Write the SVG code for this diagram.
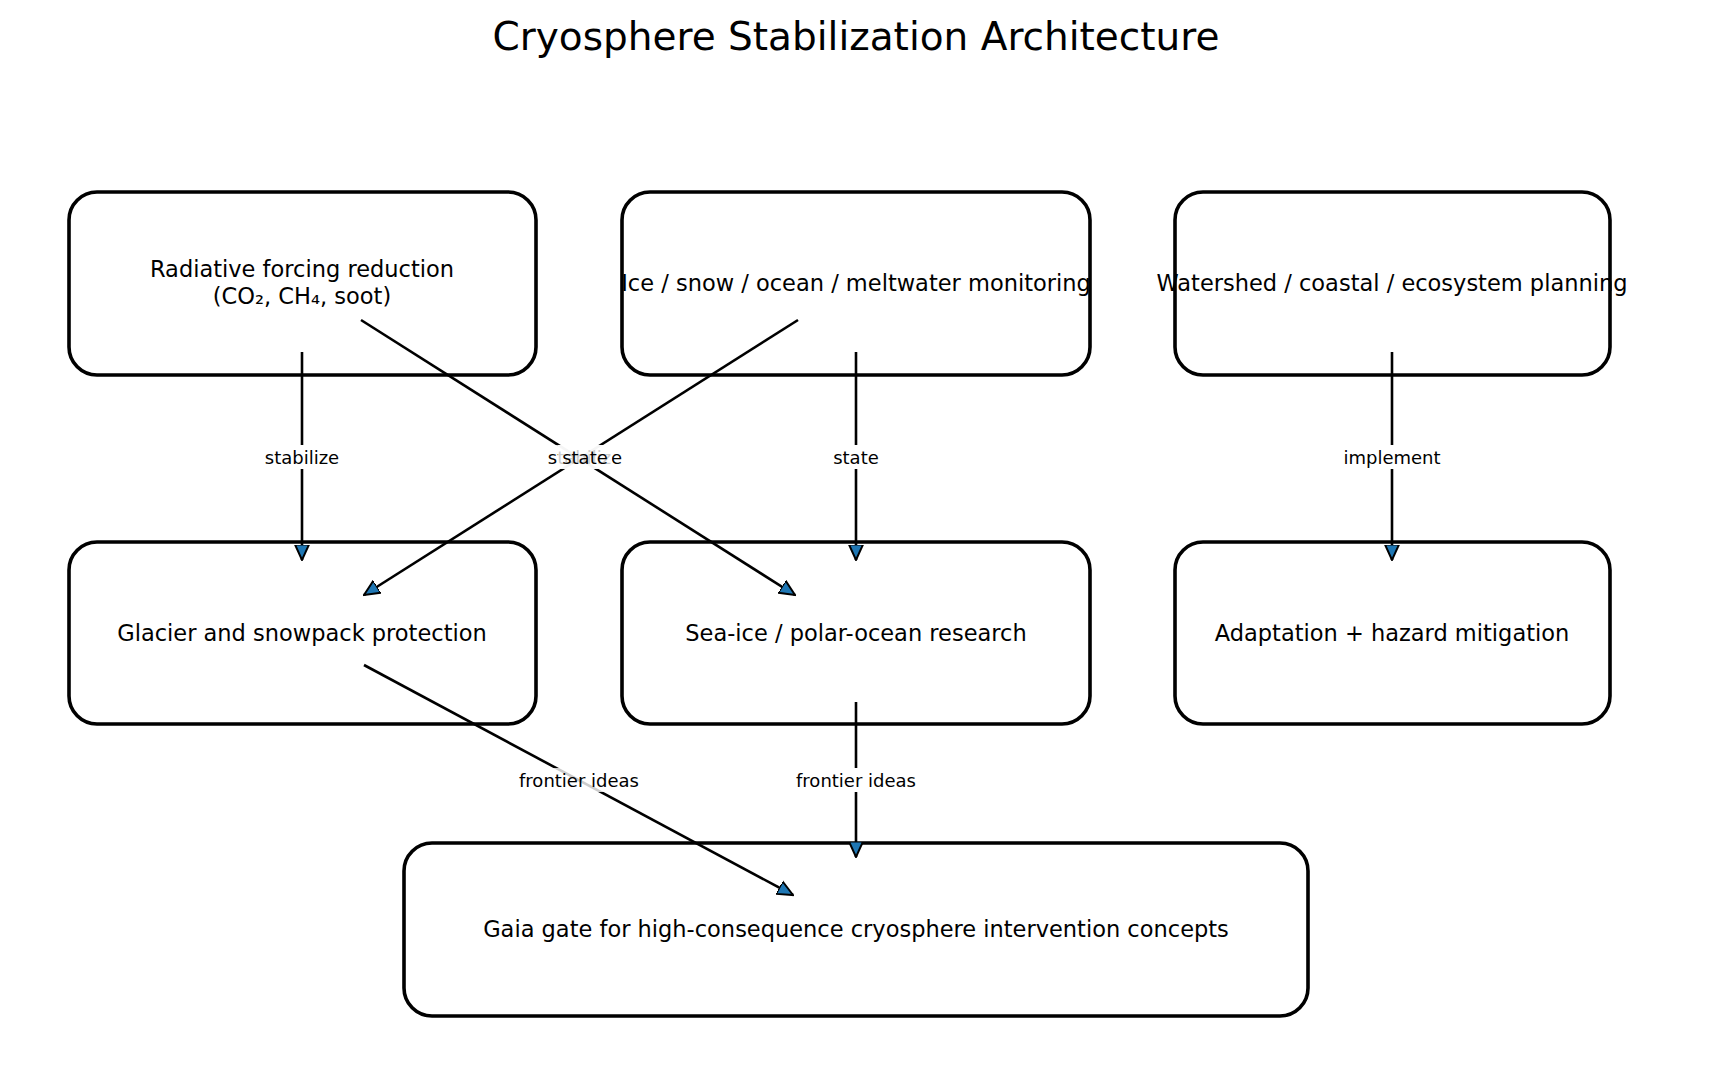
<svg xmlns="http://www.w3.org/2000/svg" width="1710" height="1072" viewBox="0 0 1710 1072">
<style>
.box{fill:#fff;stroke:#000;stroke-width:3.6}
.t{font-family:"DejaVu Sans",sans-serif;font-size:22.5px;text-anchor:middle;dominant-baseline:central}
.l{font-family:"DejaVu Sans",sans-serif;font-size:18px;text-anchor:middle;dominant-baseline:central}
.e{stroke:#000;stroke-width:2.6;fill:none;marker-end:url(#a)}
.bg{fill:#fff}
</style>
<defs>
<marker id="a" viewBox="0 0 12 12" refX="11" refY="6" markerWidth="6.5" markerHeight="6.5" orient="auto" markerUnits="strokeWidth">
<path d="M0,1 L11,6 L0,11 Z" fill="#1f77b4" stroke="#000" stroke-width="1.4"/>
</marker>
</defs>
<rect width="1710" height="1072" fill="#fff"/>
<text x="856" y="36" style="font-family:'DejaVu Sans',sans-serif;font-size:39px;text-anchor:middle;dominant-baseline:central">Cryosphere Stabilization Architecture</text>
<g id="n1"><rect class="box" x="69" y="192" width="467" height="183" rx="28"/><text class="t" x="302" y="269">Radiative forcing reduction</text><text class="t" x="302" y="296">(CO₂, CH₄, soot)</text></g>
<g id="n2"><rect class="box" x="622" y="192" width="468" height="183" rx="28"/><text class="t" x="856" y="283">Ice / snow / ocean / meltwater monitoring</text></g>
<g id="n3"><rect class="box" x="1175" y="192" width="435" height="183" rx="28"/><text class="t" x="1392" y="283">Watershed / coastal / ecosystem planning</text></g>
<g id="n4"><rect class="box" x="69" y="542" width="467" height="182" rx="28"/><text class="t" x="302" y="633">Glacier and snowpack protection</text></g>
<g id="n5"><rect class="box" x="622" y="542" width="468" height="182" rx="28"/><text class="t" x="856" y="633">Sea-ice / polar-ocean research</text></g>
<g id="n6"><rect class="box" x="1175" y="542" width="435" height="182" rx="28"/><text class="t" x="1392" y="633">Adaptation + hazard mitigation</text></g>
<g id="n7"><rect class="box" x="404" y="843" width="904" height="173" rx="28"/><text class="t" x="856" y="929">Gaia gate for high-consequence cryosphere intervention concepts</text></g>
<g id="edges">
<path class="e" d="M302,352 L302,560"/>
<path class="e" d="M361,320 L795,595"/>
<path class="e" d="M798,320 L364,595"/>
<path class="e" d="M856,352 L856,560"/>
<path class="e" d="M1392,352 L1392,560"/>
<path class="e" d="M364,665 L793,895"/>
<path class="e" d="M856,702 L856,857"/>
<rect class="bg" x="257" y="445" width="90" height="24"/><text class="l" x="302" y="457">stabilize</text>
<rect class="bg" x="540" y="445" width="90" height="24" opacity="0.8"/><text class="l" x="585" y="457">stabilize</text>
<rect class="bg" x="558" y="445" width="54" height="24" opacity="0.8"/><text class="l" x="585" y="457">state</text>
<rect class="bg" x="829" y="445" width="54" height="24"/><text class="l" x="856" y="457">state</text>
<rect class="bg" x="1340" y="445" width="104" height="24"/><text class="l" x="1392" y="457">implement</text>
<rect class="bg" x="511" y="768" width="136" height="24" opacity="0.8"/><text class="l" x="579" y="780">frontier ideas</text>
<rect class="bg" x="788" y="768" width="136" height="24"/><text class="l" x="856" y="780">frontier ideas</text>
</g>
</svg>
